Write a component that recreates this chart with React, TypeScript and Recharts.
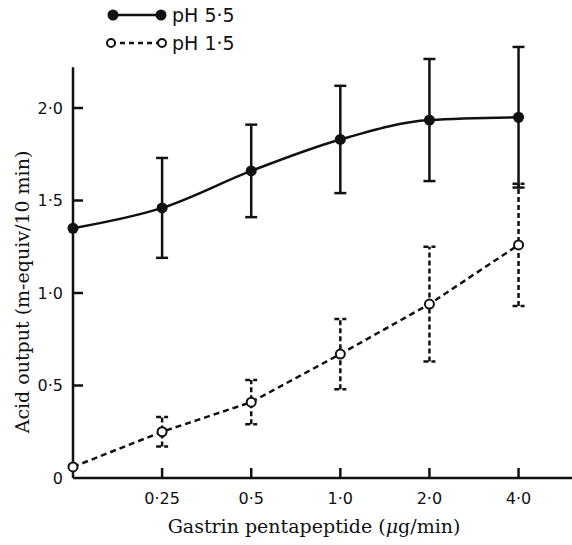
import React from "react";
import {
  LineChart,
  Line,
  XAxis,
  YAxis,
  ErrorBar,
  ReferenceLine,
} from "recharts";

// dose index 0 = no gastrin (basal), then log-spaced doses
const doses = [0, 1, 2, 3, 4, 5];
const doseLabels = ["", "0·25", "0·5", "1·0", "2·0", "4·0"];
const ph55Mean = [1.35, 1.46, 1.66, 1.83, 1.935, 1.95];
const ph55Sem = [0, 0.27, 0.25, 0.29, 0.33, 0.38];
const ph15Mean = [0.06, 0.25, 0.41, 0.67, 0.94, 1.26];
const ph15Sem = [0, 0.08, 0.12, 0.19, 0.31, 0.33];
const yTicks = [0, 0.5, 1, 1.5, 2];

const ph55 = doses.map((x, i) => ({ x, y: ph55Mean[i], err: ph55Sem[i] }));
const ph15 = doses.map((x, i) => ({ x, y: ph15Mean[i], err: ph15Sem[i] }));

const SANS = "'DejaVu Sans', sans-serif";
const SERIF = "'DejaVu Serif', serif";
const fmt = (v: number) => (v === 0 ? "0" : v.toFixed(1).replace(".", "·"));

function YTick(props: any) {
  const { x, y, payload } = props;
  return (
    <g>
      {payload.value !== 0 && (
        <line x1={x} y1={y} x2={x + 10} y2={y} stroke="#111" strokeWidth={2.5} />
      )}
      <text
        x={x - 10}
        y={y}
        textAnchor="end"
        dominantBaseline="central"
        fontFamily={SANS}
        fontSize={16}
        fill="#111"
      >
        {fmt(payload.value)}
      </text>
    </g>
  );
}

function XTick(props: any) {
  const { x, y, payload } = props;
  return (
    <g>
      <line x1={x} y1={y} x2={x} y2={y - 10} stroke="#111" strokeWidth={2.5} />
      <text x={x} y={y + 26} textAnchor="middle" fontFamily={SANS} fontSize={16} fill="#111">
        {doseLabels[payload.value]}
      </text>
    </g>
  );
}

function FilledDot(props: any) {
  const { cx, cy } = props;
  return <circle cx={cx} cy={cy} r={5.5} fill="#111" stroke="none" />;
}

function OpenDot(props: any) {
  const { cx, cy } = props;
  return <circle cx={cx} cy={cy} r={4.5} fill="#fff" stroke="#111" strokeWidth={2} />;
}

function LegendBox() {
  return (
    <div style={{ position: "absolute", left: 0, top: 0, width: 260, height: 60 }}>
      <svg width={260} height={60}>
        <line x1={113} y1={15} x2={161} y2={15} stroke="#111" strokeWidth={2.5} />
        <circle cx={113} cy={15} r={5.5} fill="#111" />
        <circle cx={161} cy={15} r={5.5} fill="#111" />
        <text x={172} y={15} dominantBaseline="central" fontFamily={SANS} fontSize={19} fill="#111">
          pH 5·5
        </text>
        <line
          x1={111}
          y1={43}
          x2={162}
          y2={43}
          stroke="#111"
          strokeWidth={2.5}
          strokeDasharray="5 4"
        />
        <circle cx={111} cy={43} r={4} fill="#fff" stroke="#111" strokeWidth={2} />
        <circle cx={162} cy={43} r={4} fill="#fff" stroke="#111" strokeWidth={2} />
        <text x={172} y={43} dominantBaseline="central" fontFamily={SANS} fontSize={19} fill="#111">
          pH 1·5
        </text>
      </svg>
    </div>
  );
}

export default function App() {
  return (
    <div
      style={{
        position: "absolute",
        left: 0,
        top: 0,
        width: 572,
        height: 545,
        background: "#fff",
      }}
    >
      <LineChart width={572} height={545} margin={{ top: 34, right: 0, bottom: 0, left: 0 }}>
        <XAxis
          type="number"
          dataKey="x"
          domain={[0, 5.6]}
          ticks={[1, 2, 3, 4, 5]}
          height={67}
          tickSize={0}
          tickMargin={0}
          tick={<XTick />}
          axisLine={{ stroke: "#111", strokeWidth: 2.5 }}
          tickLine={false}
          label={{
            content: () => (
              <text x={314} y={533} textAnchor="middle" fontFamily={SERIF} fontSize={19} fill="#111">
                Gastrin pentapeptide (<tspan fontStyle="italic">μ</tspan>g/min)
              </text>
            ),
          }}
        />
        <YAxis
          type="number"
          domain={[0, 2.4]}
          ticks={yTicks}
          width={73}
          tickSize={0}
          tickMargin={0}
          tick={<YTick />}
          axisLine={false}
          tickLine={false}
          label={{
            content: () => (
              <text
                x={22}
                y={292}
                transform="rotate(-90 22 292)"
                textAnchor="middle"
                dominantBaseline="central"
                fontFamily={SERIF}
                fontSize={19}
                fill="#111"
              >
                Acid output (m-equiv/10 min)
              </text>
            ),
          }}
        />
        <ReferenceLine
          segment={[
            { x: 0, y: 0 },
            { x: 0, y: 2.22 },
          ]}
          stroke="#111"
          strokeWidth={2.5}
        />
        <Line
          data={ph55}
          dataKey="y"
          type="monotone"
          stroke="#111"
          strokeWidth={2.5}
          dot={<FilledDot />}
          activeDot={false}
          isAnimationActive={false}
        >
          <ErrorBar dataKey="err" width={6} stroke="#111" strokeWidth={2.5} direction="y" />
        </Line>
        <Line
          data={ph15}
          dataKey="y"
          type="linear"
          stroke="#111"
          strokeWidth={2.5}
          strokeDasharray="6 4"
          dot={<OpenDot />}
          activeDot={false}
          isAnimationActive={false}
        >
          <ErrorBar
            dataKey="err"
            width={6}
            stroke="#111"
            strokeWidth={2.5}
            strokeDasharray="5 3"
            direction="y"
          />
        </Line>
      </LineChart>
      <LegendBox />
    </div>
  );
}
